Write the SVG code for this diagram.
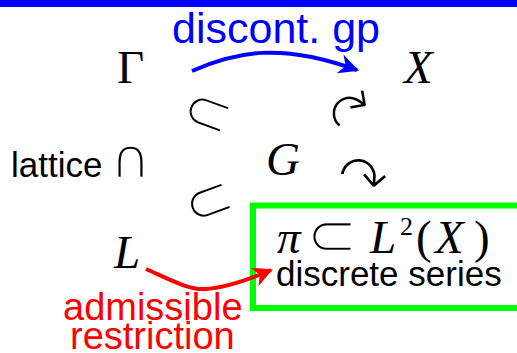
<svg xmlns="http://www.w3.org/2000/svg" width="517" height="353" viewBox="0 0 517 353">
  <style>
    .math { font-family: "Liberation Serif", "DejaVu Serif", serif; font-size: 47px; fill: #000; }
    .it { font-style: italic; }
    .sym { font-family: "DejaVu Sans", sans-serif; fill: #000; stroke: #fff; stroke-width: 2.4px; paint-order: fill stroke; }
    .sans { font-family: "Liberation Sans", Arial, sans-serif; }
    .conn { fill: none; stroke-width: 4; stroke-linecap: butt; }
  </style>
  <defs>
    <marker id="headBlue" viewBox="0 0 10 10" refX="9" refY="5" markerWidth="5" markerHeight="5" orient="auto" markerUnits="strokeWidth">
      <path d="M0,0 L10,5 L0,10 L3,5 Z" fill="#0000ff"/>
    </marker>
    <marker id="headRed" viewBox="0 0 10 10" refX="9" refY="5" markerWidth="5" markerHeight="5" orient="auto" markerUnits="strokeWidth">
      <path d="M0,0 L10,5 L0,10 L3,5 Z" fill="#ff0000"/>
    </marker>
  </defs>

  <rect x="0" y="0" width="517" height="7" fill="#0000ff"/>

  <g id="node-gamma"><text class="math" x="117" y="83">Γ</text></g>
  <g id="node-X"><text class="math it" x="404" y="83">X</text></g>
  <g id="node-G"><text class="math it" x="266" y="175">G</text></g>
  <g id="node-L"><text class="math it" x="114" y="268">L</text></g>

  <g id="node-lattice">
    <text class="sans" x="11" y="177" font-size="35">lattice</text>
    <text class="sym" x="110" y="178" font-size="56">∩</text>
  </g>

  <g id="node-pi">
    <rect x="253" y="205.5" width="290" height="102.5" fill="none" stroke="#00ff00" stroke-width="6"/>
    <text class="math it" x="277" y="253">π</text>
    <text class="sym" x="306" y="256" font-size="62">⊂</text>
    <text class="math it" x="370" y="253">L</text>
    <text class="math" x="400" y="235" style="font-size:26px">2</text>
    <text class="math" x="416" y="253">(</text>
    <text class="math it" x="435" y="253">X</text>
    <text class="math" x="474" y="253">)</text>
    <text class="sans" x="276" y="286" font-size="35">discrete series</text>
  </g>

  <g id="relations">
    <text class="sym" font-size="60" transform="translate(208,111) rotate(20)" text-anchor="middle" dominant-baseline="central">⊂</text>
    <text class="sym" font-size="60" transform="translate(208,200) rotate(-20)" text-anchor="middle" dominant-baseline="central">⊂</text>
    <text class="sym" font-size="60" transform="translate(353,110) rotate(-55)" text-anchor="middle" dominant-baseline="central">↷</text>
    <text class="sym" font-size="62" transform="translate(363,178) rotate(5)" text-anchor="middle" dominant-baseline="central">↷</text>
  </g>

  <g id="connectors">
    <path class="conn" stroke="#0000ff" d="M192,71 C235,52 280,42 357,70" marker-end="url(#headBlue)"/>
    <path class="conn" stroke="#ff0000" d="M146,269 C175,282 190,290 205,289 C225,288 250,279 271,270" marker-end="url(#headRed)"/>
  </g>

  <g id="labels">
    <text class="sans" x="172" y="43" font-size="43" fill="#0000ff">discont. gp</text>
    <text class="sans" x="63" y="320" font-size="38" fill="#ff0000">admissible</text>
    <text class="sans" x="70" y="349" font-size="38" fill="#ff0000">restriction</text>
  </g>
</svg>
